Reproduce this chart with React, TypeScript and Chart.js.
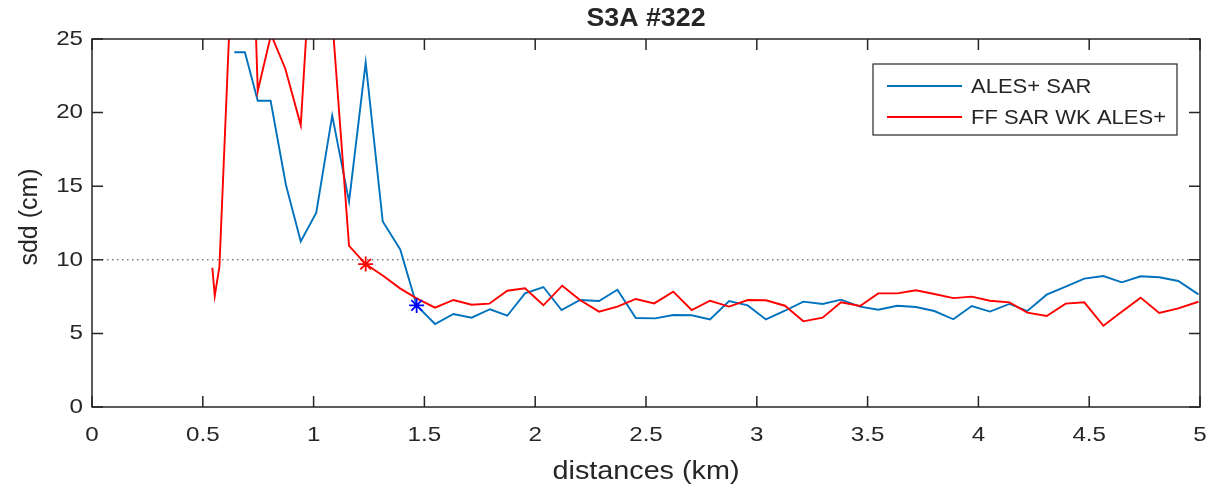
import React, { useEffect, useRef } from 'react';
import { Chart, registerables } from 'chart.js';

Chart.register(...registerables);

// ---------- data ----------
const chartTitle = 'S3A #322';
const xTitle = 'distances (km)';
const yTitle = 'sdd (cm)';
const seriesNames = ['ALES+ SAR', 'FF SAR WK ALES+'];

const blueX = [0.642, 0.69, 0.748, 0.806, 0.875, 0.942, 1.012, 1.084, 1.16, 1.235, 1.312, 1.391, 1.465, 1.548, 1.631, 1.713, 1.796, 1.874, 1.954, 2.037, 2.119, 2.202, 2.288, 2.371, 2.454, 2.541, 2.623, 2.706, 2.789, 2.875, 2.959, 3.041, 3.127, 3.21, 3.297, 3.38, 3.466, 3.548, 3.634, 3.718, 3.801, 3.887, 3.97, 4.052, 4.14, 4.221, 4.308, 4.394, 4.478, 4.564, 4.647, 4.732, 4.816, 4.902, 4.993];
const blueY = [24.1, 24.1, 20.8, 20.8, 15.1, 11.25, 13.2, 19.8, 13.95, 23.4, 12.6, 10.7, 6.9, 5.64, 6.32, 6.07, 6.64, 6.2, 7.72, 8.15, 6.59, 7.27, 7.2, 7.97, 6.05, 6.02, 6.25, 6.23, 5.95, 7.2, 6.9, 5.95, 6.54, 7.16, 7.0, 7.29, 6.82, 6.61, 6.88, 6.79, 6.52, 5.96, 6.86, 6.48, 7.0, 6.52, 7.63, 8.17, 8.72, 8.9, 8.47, 8.88, 8.81, 8.56, 7.65];

const redX = [0.543, 0.554, 0.575, 0.687, 0.748, 0.808, 0.872, 0.942, 1.022, 1.16, 1.235, 1.315, 1.39, 1.465, 1.548, 1.631, 1.713, 1.793, 1.874, 1.954, 2.037, 2.122, 2.202, 2.288, 2.371, 2.454, 2.537, 2.623, 2.706, 2.789, 2.875, 2.959, 3.041, 3.127, 3.21, 3.297, 3.38, 3.466, 3.548, 3.634, 3.718, 3.801, 3.887, 3.97, 4.052, 4.14, 4.221, 4.308, 4.394, 4.478, 4.564, 4.647, 4.732, 4.816, 4.902, 4.993];
const redY = [9.46, 7.54, 9.53, 50, 21.47, 25.3, 23.0, 19.15, 39, 10.94, 9.71, 8.9, 8.06, 7.38, 6.75, 7.27, 6.95, 7.02, 7.9, 8.06, 6.91, 8.24, 7.27, 6.48, 6.82, 7.34, 7.04, 7.84, 6.59, 7.22, 6.82, 7.27, 7.25, 6.88, 5.82, 6.07, 7.11, 6.86, 7.72, 7.72, 7.93, 7.68, 7.4, 7.5, 7.22, 7.11, 6.41, 6.18, 7.02, 7.11, 5.52, 6.47, 7.43, 6.39, 6.7, 7.15];

const blueStarX = [1.465];
const blueStarY = [6.9];
const redStarX = [1.235];
const redStarY = [9.71];

const thresholdX = [0, 5];
const thresholdY = [10, 10];

const xTicks = [0, 0.5, 1, 1.5, 2, 2.5, 3, 3.5, 4, 4.5, 5];
const xTickLabels = ['0', '0.5', '1', '1.5', '2', '2.5', '3', '3.5', '4', '4.5', '5'];
const yTicks = [0, 5, 10, 15, 20, 25];
const yTickLabels = ['0', '5', '10', '15', '20', '25'];

// ---------- style ----------
const BLUE = '#0072BD';
const RED = '#FF0000';
const AXIS = '#262626';
const FONT = '"Liberation Sans", Arial, Helvetica, sans-serif';

const pts = (xs: number[], ys: number[]) => xs.map((x, i) => ({ x, y: ys[i] }));

function drawText(
  ctx: CanvasRenderingContext2D,
  text: string,
  x: number,
  y: number,
  size: number,
  opts: { bold?: boolean; align?: CanvasTextAlign; sx?: number; rotate?: number } = {}
) {
  ctx.save();
  ctx.font = `${opts.bold ? 'bold ' : ''}${size}px ${FONT}`;
  ctx.textAlign = opts.align || 'center';
  ctx.textBaseline = 'middle';
  ctx.translate(x, y);
  if (opts.rotate) ctx.rotate(opts.rotate);
  ctx.scale(opts.sx || 1, 1);
  ctx.fillText(text, 0, 0);
  ctx.restore();
}

const decorPlugin = {
  id: 'decor',
  afterDatasetsDraw(chart: any) {
    const ctx: CanvasRenderingContext2D = chart.ctx;
    const { left, right, top, bottom } = chart.chartArea;
    const xs = chart.scales.x;
    const ys = chart.scales.y;
    ctx.save();
    ctx.strokeStyle = AXIS;
    ctx.lineWidth = 1.5;
    ctx.strokeRect(left, top, right - left, bottom - top);
    const tl = 11;
    ctx.beginPath();
    xTicks.forEach((v) => {
      const px = xs.getPixelForValue(v);
      ctx.moveTo(px, bottom);
      ctx.lineTo(px, bottom - tl);
      ctx.moveTo(px, top);
      ctx.lineTo(px, top + tl);
    });
    yTicks.forEach((v) => {
      const py = ys.getPixelForValue(v);
      ctx.moveTo(left, py);
      ctx.lineTo(left + tl, py);
      ctx.moveTo(right, py);
      ctx.lineTo(right - tl, py);
    });
    ctx.stroke();

    ctx.fillStyle = AXIS;
    xTicks.forEach((v, i) => {
      drawText(ctx, xTickLabels[i], xs.getPixelForValue(v), 435, 21, { sx: 1.15 });
    });
    yTicks.forEach((v, i) => {
      drawText(ctx, yTickLabels[i], left - 9, ys.getPixelForValue(v), 21, { align: 'right', sx: 1.15 });
    });
    drawText(ctx, xTitle, (left + right) / 2, 472, 25, { sx: 1.15 });
    drawText(ctx, yTitle, 30, (top + bottom) / 2 - 6, 25, { rotate: -Math.PI / 2 });
    drawText(ctx, chartTitle, (left + right) / 2, 19, 26, { bold: true, sx: 1.03 });

    // legend
    const lx = 873, ly = 64, lw = 304, lh = 71;
    ctx.fillStyle = '#ffffff';
    ctx.fillRect(lx, ly, lw, lh);
    ctx.strokeStyle = AXIS;
    ctx.lineWidth = 1.2;
    ctx.strokeRect(lx, ly, lw, lh);
    const rows = [
      { name: seriesNames[0], color: BLUE, y: 86 },
      { name: seriesNames[1], color: RED, y: 117 },
    ];
    rows.forEach((r) => {
      ctx.strokeStyle = r.color;
      ctx.lineWidth = 1.8;
      ctx.beginPath();
      ctx.moveTo(887, r.y);
      ctx.lineTo(962, r.y);
      ctx.stroke();
      ctx.fillStyle = AXIS;
      drawText(ctx, r.name, 971, r.y + 1, 20, { align: 'left', sx: 1.1 });
    });
    ctx.restore();
  },
};

export default function App() {
  const ref = useRef<HTMLCanvasElement>(null);

  useEffect(() => {
    if (!ref.current) return;
    const chart = new Chart(ref.current, {
      type: 'line',
      data: {
        datasets: [
          {
            label: 'red star',
            data: pts(redStarX, redStarY),
            showLine: false,
            pointStyle: 'star',
            pointRadius: 7.5,
            pointBorderColor: RED,
            pointBackgroundColor: RED,
            pointBorderWidth: 1.8,
            borderColor: RED,
          },
          {
            label: 'blue star',
            data: pts(blueStarX, blueStarY),
            showLine: false,
            pointStyle: 'star',
            pointRadius: 7.5,
            pointBorderColor: '#0000FF',
            pointBackgroundColor: '#0000FF',
            pointBorderWidth: 1.8,
            borderColor: '#0000FF',
          },
          {
            label: seriesNames[1],
            data: pts(redX, redY),
            borderColor: RED,
            borderWidth: 1.9,
            pointRadius: 0,
            tension: 0,
          },
          {
            label: seriesNames[0],
            data: pts(blueX, blueY),
            borderColor: BLUE,
            borderWidth: 1.9,
            pointRadius: 0,
            tension: 0,
          },
          {
            label: 'threshold',
            data: pts(thresholdX, thresholdY),
            borderColor: '#404040',
            borderWidth: 1,
            borderDash: [1.5, 3.5],
            pointRadius: 0,
          },
        ],
      },
      options: {
        animation: false,
        responsive: false,
        events: [],
        layout: { padding: { left: 92, top: 39, right: 31, bottom: 81 } },
        plugins: {
          legend: { display: false },
          title: { display: false },
          tooltip: { enabled: false },
        },
        scales: {
          x: { type: 'linear', min: 0, max: 5, display: false },
          y: { type: 'linear', min: 0, max: 25, display: false },
        },
      },
      plugins: [decorPlugin],
    });
    return () => chart.destroy();
  }, []);

  return (
    <div style={{ position: 'absolute', left: 0, top: 0, width: 1231, height: 488, background: '#fff' }}>
      <canvas ref={ref} width={1231} height={488} />
    </div>
  );
}
